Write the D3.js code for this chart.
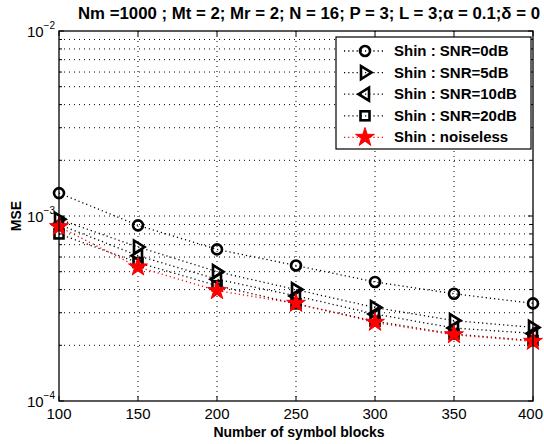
<!DOCTYPE html>
<html><head><meta charset="utf-8">
<script src="https://cdn.jsdelivr.net/npm/d3@7"></script>
<style>body{margin:0;background:#fff}svg{display:block;font-family:"Liberation Sans",Arial,sans-serif}</style>
</head><body><svg id="c" width="544" height="444"></svg>
<script>
const blocks = [100,150,200,250,300,350,400];
const snr0  = [1.33e-3, 8.9e-4, 6.6e-4, 5.4e-4, 4.4e-4, 3.8e-4, 3.37e-4];
const snr5  = [9.6e-4, 6.8e-4, 5.0e-4, 4.0e-4, 3.2e-4, 2.72e-4, 2.5e-4];
const snr10 = [9.0e-4, 6.1e-4, 4.55e-4, 3.7e-4, 2.95e-4, 2.48e-4, 2.32e-4];
const snr20 = [8.0e-4, 5.6e-4, 4.2e-4, 3.35e-4, 2.7e-4, 2.3e-4, 2.12e-4];
const noiseless = [8.75e-4, 5.3e-4, 3.95e-4, 3.37e-4, 2.66e-4, 2.28e-4, 2.1e-4];
const seriesNames = ["Shin : SNR=0dB","Shin : SNR=5dB","Shin : SNR=10dB","Shin : SNR=20dB","Shin : noiseless"];
const seriesData = [snr0, snr5, snr10, snr20, noiseless];
const seriesMarkers = ["circle","triR","triL","square","star"];
const seriesColors = ["#000","#000","#000","#000","#f00"];
const xTicks = [100,150,200,250,300,350,400];
const yDecades = [-4,-3,-2];
const title = "Nm =1000 ; Mt = 2; Mr = 2; N = 16;  P = 3; L = 3;\u03b1 = 0.1;\u03b4 = 0";

const svg = d3.select("#c");
const L=59, R=533, T=31, B=401;
const x = d3.scaleLinear().domain([100,400]).range([L,R]);
const y = d3.scaleLog().domain([1e-4,1e-2]).range([B,T]);

// grid
const minor = [];
for (let e=-4;e<-2;e++) for (let m=1;m<10;m++) { const v=m*Math.pow(10,e); if(v>1e-4) minor.push(v); }
const g = svg.append("g");
g.selectAll(".gy").data(minor).join("line")
  .attr("x1",L).attr("x2",R).attr("y1",d=>y(d)).attr("y2",d=>y(d))
  .attr("stroke","#000").attr("stroke-width",1).attr("stroke-dasharray","1,4");
g.selectAll(".gx").data(xTicks.slice(1,-1)).join("line")
  .attr("x1",d=>x(d)).attr("x2",d=>x(d)).attr("y1",T).attr("y2",B)
  .attr("stroke","#000").attr("stroke-width",1).attr("stroke-dasharray","1,4");

// ticks inside
const tk = svg.append("g").attr("stroke","#000");
xTicks.forEach(d=>{
  tk.append("line").attr("x1",x(d)).attr("x2",x(d)).attr("y1",B).attr("y2",B-5);
  tk.append("line").attr("x1",x(d)).attr("x2",x(d)).attr("y1",T).attr("y2",T+5);
});
minor.concat([1e-4,1e-2]).forEach(v=>{
  const len = (Math.abs(Math.log10(v)-Math.round(Math.log10(v)))<1e-9)?5:3;
  tk.append("line").attr("x1",L).attr("x2",L+len).attr("y1",y(v)).attr("y2",y(v));
  tk.append("line").attr("x1",R).attr("x2",R-len).attr("y1",y(v)).attr("y2",y(v));
});

// x axis labels
svg.append("g").selectAll("text").data(xTicks).join("text")
  .attr("x",d=>d===400?543:x(d)).attr("y",B+18).attr("text-anchor",d=>d===400?"end":"middle")
  .attr("font-size",15).text(d=>d);
// y axis labels
yDecades.forEach(e=>{
  const t = svg.append("text").attr("x",L-4).attr("y",y(Math.pow(10,e))+6).attr("text-anchor","end").attr("font-size",15);
  t.append("tspan").text("10");
  t.append("tspan").attr("dy",-8).attr("font-size",10).text("\u2212"+Math.abs(e));
});

svg.append("text").attr("x",299).attr("y",437).attr("text-anchor","middle")
  .attr("font-size",14).attr("font-weight","bold").text("Number of symbol blocks");
svg.append("text").attr("transform","translate(21,216) rotate(-90)").attr("text-anchor","middle")
  .attr("font-size",14).attr("font-weight","bold").text("MSE");
svg.append("text").attr("x",78).attr("y",19).attr("font-size",16.8).attr("font-weight","bold").text(title);

function marker(sel, type, color){
  if(type==="circle") sel.append("circle").attr("r",5).attr("fill","none").attr("stroke",color).attr("stroke-width",2.6);
  else if(type==="triR") sel.append("path").attr("d","M-4,-6.5L6.5,0L-4,6.5Z").attr("fill","none").attr("stroke",color).attr("stroke-width",2.6);
  else if(type==="triL") sel.append("path").attr("d","M4,-6.5L-6.5,0L4,6.5Z").attr("fill","none").attr("stroke",color).attr("stroke-width",2.6);
  else if(type==="square") sel.append("rect").attr("x",-4.5).attr("y",-4.5).attr("width",9).attr("height",9).attr("fill","none").attr("stroke",color).attr("stroke-width",2.6);
  else if(type==="star") sel.append("path").attr("d",d3.symbol(d3.symbolStar,110)()).attr("fill",color).attr("stroke",color).attr("stroke-width",1);
}

const line = d3.line().x((d,i)=>x(blocks[i])).y(d=>y(d));
seriesData.forEach((s,k)=>{
  svg.append("path").attr("d",line(s)).attr("fill","none").attr("stroke",seriesColors[k])
    .attr("stroke-width",1.3).attr("stroke-dasharray","1.2,3");
});
seriesData.forEach((s,k)=>{
  s.forEach((v,i)=>{
    const gg = svg.append("g").attr("transform",`translate(${x(blocks[i])},${y(v)})`);
    marker(gg, seriesMarkers[k], seriesColors[k]);
  });
});

// frame
svg.append("rect").attr("x",L).attr("y",T).attr("width",R-L).attr("height",B-T).attr("fill","none").attr("stroke","#000").attr("stroke-width",1.3);

// legend
const lg = svg.append("g");
lg.append("rect").attr("x",336).attr("y",37).attr("width",195).attr("height",112).attr("fill","#fff").attr("stroke","#000").attr("stroke-width",1.2);
seriesNames.forEach((n,k)=>{
  const yy = 51 + k*21.6;
  lg.append("line").attr("x1",344).attr("x2",384).attr("y1",yy).attr("y2",yy).attr("stroke",seriesColors[k]).attr("stroke-width",1.3).attr("stroke-dasharray","1.2,3");
  const gg = lg.append("g").attr("transform",`translate(365,${yy})`);
  marker(gg, seriesMarkers[k], seriesColors[k]);
  lg.append("text").attr("x",394).attr("y",yy+5).attr("font-size",15).attr("font-weight","bold").text(n);
});
</script></body></html>
